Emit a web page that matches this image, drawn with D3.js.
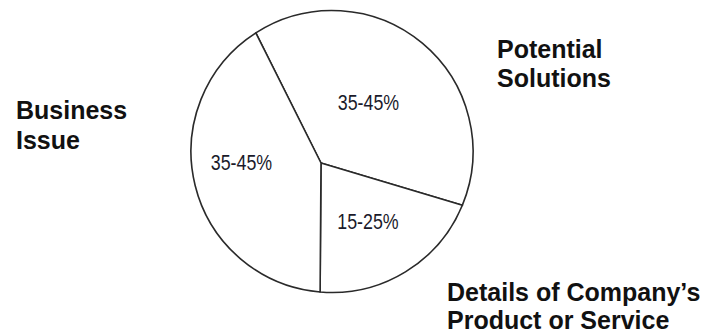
<!DOCTYPE html>
<html>
<head>
<meta charset="utf-8">
<script src="https://cdn.jsdelivr.net/npm/d3@7"></script>
<style>
  body { margin: 0; background: #fff; }
  .cat { font-family: "Liberation Sans", Arial, sans-serif; font-weight: bold; font-size: 25px; fill: #111; }
  .pct { font-family: "Liberation Sans", Arial, sans-serif; font-size: 22px; fill: #1a1a2a; }
</style>
</head>
<body>
<div id="chart"></div>
<script>
// slices, clockwise starting from the upper-left spoke
const categories = ["Potential Solutions", "Details of Company\u2019s Product or Service", "Business Issue"];
const shares = [37, 20.5, 42.5];          // share of the circle as drawn
const shareLabels = ["35-45%", "15-25%", "35-45%"];
const categoryLines = [["Potential", "Solutions"], ["Details of Company\u2019s", "Product or Service"], ["Business", "Issue"]];

const width = 712, height = 334;

// the circle, and the point where the spokes meet (drawn slightly off centre)
const circle = { x: 332, y: 151.5, r: 141 };
const hub = { x: 321, y: 163 };
const startDeg = -26.6;

// layout of the texts
const pctPos = [[368.5, 110], [368, 229], [241.5, 170]];
const pctSquash = 0.81;   // the original uses a narrow face
const catPos = [[497, 58, 29], [447, 301, 28], [16, 119, 30]];

const svg = d3.select("#chart")
    .append("svg")
    .attr("width", width)
    .attr("height", height);

const pie = d3.pie()
    .sort(null)
    .value(function(d) { return d; })
    .startAngle(startDeg * Math.PI / 180)
    .endAngle(startDeg * Math.PI / 180 + 2 * Math.PI);

const arcs = pie(shares);

// where a spoke leaving the hub at angle a (0 = up, clockwise) meets the circle
function rim(a) {
    var dx = Math.sin(a), dy = -Math.cos(a);
    var wx = hub.x - circle.x, wy = hub.y - circle.y;
    var b = wx * dx + wy * dy;
    var t = -b + Math.sqrt(b * b - (wx * wx + wy * wy) + circle.r * circle.r);
    return { x: hub.x + t * dx, y: hub.y + t * dy };
}

function slicePath(d) {
    var p1 = rim(d.startAngle), p2 = rim(d.endAngle);
    var t1 = Math.atan2(p1.y - circle.y, p1.x - circle.x);
    var t2 = Math.atan2(p2.y - circle.y, p2.x - circle.x);
    while (t2 <= t1) t2 += 2 * Math.PI;
    var p = d3.path();
    p.moveTo(hub.x, hub.y);
    p.lineTo(p1.x, p1.y);
    p.arc(circle.x, circle.y, circle.r, t1, t2, false);
    p.closePath();
    return p.toString();
}

svg.selectAll("path.slice")
    .data(arcs)
    .enter()
    .append("path")
    .attr("class", "slice")
    .attr("d", slicePath)
    .attr("fill", "#fff")
    .attr("stroke", "#2a2a2a")
    .attr("stroke-width", 1.6)
    .attr("stroke-linejoin", "round");

// percentage ranges inside the slices
svg.selectAll("text.pct")
    .data(shareLabels)
    .enter()
    .append("text")
    .attr("class", "pct")
    .attr("transform", function(d, i) {
        return "translate(" + pctPos[i][0] + "," + pctPos[i][1] + ") scale(" + pctSquash + ",1)";
    })
    .attr("text-anchor", "middle")
    .text(function(d) { return d; });

// category names outside the circle
const cat = svg.selectAll("text.cat")
    .data(categories)
    .enter()
    .append("text")
    .attr("class", "cat")
    .attr("x", function(d, i) { return catPos[i][0]; })
    .attr("y", function(d, i) { return catPos[i][1]; });

cat.selectAll("tspan")
    .data(function(d, i) { return categoryLines[i].map(function(s) { return { s: s, i: i }; }); })
    .enter()
    .append("tspan")
    .attr("x", function(d) { return catPos[d.i][0]; })
    .attr("dy", function(d, j) { return j === 0 ? 0 : catPos[d.i][2]; })
    .text(function(d) { return d.s; });
</script>
</body>
</html>
